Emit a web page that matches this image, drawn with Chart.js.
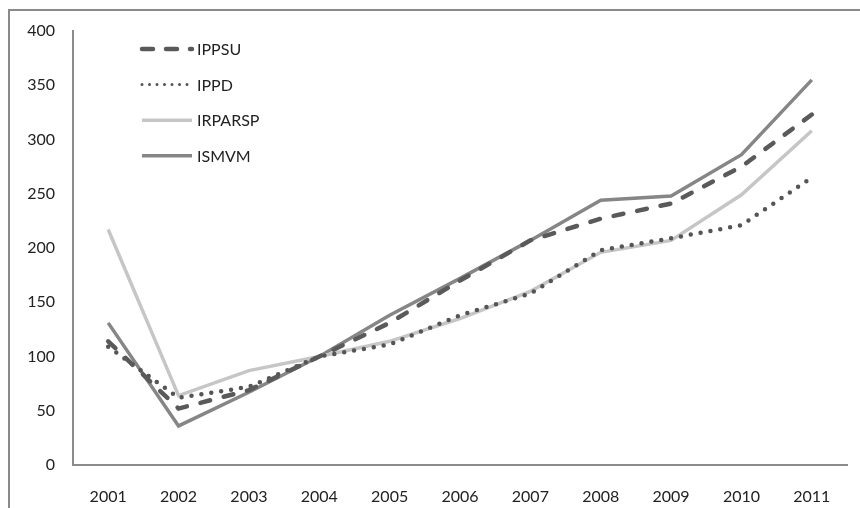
<!DOCTYPE html>
<html>
<head>
<meta charset="utf-8">
<script src="https://cdn.jsdelivr.net/npm/chart.js@4"></script>
<style>
  html, body { margin: 0; padding: 0; background: #fff; }
  #wrap { width: 860px; height: 508px; }
</style>
</head>
<body>
<div id="wrap"><canvas id="myChart" width="860" height="508"></canvas></div>
<script>
// values
const years = ['2001', '2002', '2003', '2004', '2005', '2006', '2007', '2008', '2009', '2010', '2011']
const ippsu = [114, 52, 69, 100, 131, 170, 207, 227, 241, 275, 323]
const ippd = [109, 62, 72, 100, 111, 138, 158, 198, 209, 221, 265]
const irparsp = [217, 64, 87, 100, 114, 135, 160, 196, 207, 249, 308]
const ismvm = [131, 36, 67, 100, 138, 172, 207, 244, 248, 286, 355]

const FONT = 'Lato, "Open Sans", sans-serif'

// outer frame (only top and left edges show in the picture)
const framePlugin = {
  id: 'frame',
  beforeDraw(chart) {
    const c = chart.ctx
    c.save()
    c.strokeStyle = '#8a8a8a'
    c.lineWidth = 2
    c.beginPath()
    c.moveTo(9, 600)
    c.lineTo(9, 10)
    c.lineTo(900, 10)
    c.stroke()
    c.restore()
  }
}

// vertical legend in the top-left of the plot
const legendPlugin = {
  id: 'boxLegend',
  afterDatasetsDraw(chart) {
    const c = chart.ctx
    const area = chart.chartArea
    const x0 = area.left + 69
    chart.data.datasets.forEach((ds, i) => {
      const y = area.top + 18 + i * 35.6
      c.save()
      c.strokeStyle = ds.borderColor
      c.lineWidth = ds.legendWidth || ds.borderWidth
      c.lineCap = ds.borderCapStyle || 'butt'
      c.setLineDash(ds.legendDash || ds.borderDash || [])
      c.beginPath()
      c.moveTo(x0, y)
      c.lineTo(x0 + 50, y)
      c.stroke()
      c.restore()
      c.save()
      c.fillStyle = '#222'
      c.font = '16px ' + FONT
      c.textBaseline = 'middle'
      c.fillText(ds.label, x0 + 55, y + 1)
      c.restore()
    })
  }
}

const ctx = document.getElementById('myChart')

const myChart = new Chart(ctx, {
  type: 'line',
  data: {
    labels: years,
    datasets: [
      {
        label: 'IPPSU',
        data: ippsu,
        borderColor: '#5a5a5a',
        borderWidth: 4.5,
        borderDash: [10, 14],
        borderCapStyle: 'round',
        legendDash: [11, 13],
        pointRadius: 0
      },
      {
        label: 'IPPD',
        data: ippd,
        borderColor: '#555555',
        borderWidth: 4.5,
        borderDash: [0, 10],
        borderCapStyle: 'round',
        legendWidth: 3,
        legendDash: [0, 7.5],
        pointRadius: 0
      },
      {
        label: 'IRPARSP',
        data: irparsp,
        borderColor: '#c6c6c6',
        borderWidth: 3.5,
        pointRadius: 0
      },
      {
        label: 'ISMVM',
        data: ismvm,
        borderColor: '#868686',
        borderWidth: 3.5,
        pointRadius: 0
      }
    ]
  },
  options: {
    responsive: false,
    animation: false,
    layout: { padding: { top: 31, right: 13, left: 0, bottom: 0 } },
    plugins: {
      legend: { display: false },
      tooltip: { enabled: false }
    },
    scales: {
      x: {
        offset: true,
        // invisible ticks push the labels down without adding side padding
        grid: { display: true, drawOnChartArea: false, offset: true, tickLength: 22, tickColor: 'rgba(0,0,0,0)' },
        border: { color: '#8c8c8c', width: 2 },
        ticks: { color: '#222', font: { family: FONT, size: 16 }, padding: 0, maxRotation: 0, autoSkip: false },
        afterFit(scale) { scale.height = 43 }
      },
      y: {
        min: 0,
        max: 400,
        grid: { display: true, drawOnChartArea: false, tickLength: 18, tickColor: 'rgba(0,0,0,0)' },
        border: { color: '#8c8c8c', width: 2 },
        ticks: { stepSize: 50, color: '#222', font: { family: FONT, size: 16 }, padding: 0 },
        afterFit(scale) { scale.width = 73 }
      }
    }
  },
  plugins: [framePlugin, legendPlugin]
})
</script>
</body>
</html>
